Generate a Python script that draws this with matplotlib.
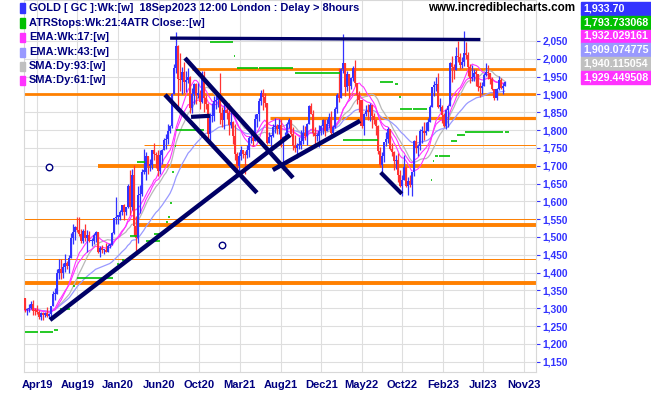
import numpy as np
import pandas as pd
import matplotlib.pyplot as plt

plt.rcParams['font.family'] = ['Liberation Sans', 'DejaVu Sans']
plt.rcParams['font.weight'] = 'bold'

# weekly gold candles, week of 25 Feb 2019 .. week of 18 Sep 2023
closes = [1294, 1298, 1302, 1313, 1292, 1291, 1290, 1276, 1286, 1280, 1286, 1277, 1284,
          1305, 1340, 1341, 1399, 1409, 1399, 1415, 1426, 1419, 1440, 1496, 1513, 1527,
          1520, 1507, 1488, 1517, 1497, 1505, 1488, 1490, 1505, 1514, 1459, 1468, 1462,
          1464, 1459, 1476, 1478, 1511, 1552,
          1557, 1557, 1571, 1589, 1570, 1584, 1643, 1585, 1674, 1530, 1498, 1617, 1620,
          1683, 1683, 1727, 1700, 1702, 1743, 1734, 1730, 1684, 1730, 1743, 1771, 1774,
          1798, 1810, 1902, 1975, 2035, 1944, 1940, 1964, 1934, 1940, 1950, 1862, 1900,
          1930, 1899, 1902, 1879, 1951, 1889, 1872, 1788, 1839, 1840, 1881, 1883, 1895,
          1849, 1828, 1856, 1848, 1814, 1824, 1784, 1734, 1699, 1727, 1745, 1733, 1729,
          1744, 1777, 1778, 1769, 1831, 1844, 1881, 1903, 1892, 1877, 1764, 1781, 1784,
          1808, 1812, 1802, 1814, 1763, 1780, 1781, 1817, 1827, 1788, 1754, 1750, 1757,
          1757, 1768, 1793, 1783, 1818, 1868, 1846, 1792, 1783, 1783, 1798, 1811, 1829,
          1797, 1818, 1836, 1792, 1808, 1859, 1899, 1889, 1970, 1989, 1921, 1958, 1925,
          1946, 1975, 1931, 1897, 1883, 1811, 1846, 1853, 1851, 1871, 1840, 1827, 1811,
          1742, 1703, 1727, 1766, 1775, 1802, 1747, 1738, 1712, 1716, 1675, 1644, 1660,
          1695, 1644, 1657, 1645, 1681, 1769, 1751, 1754, 1797, 1797, 1793, 1798, 1824,
          1865, 1920, 1926, 1928, 1865, 1865, 1842, 1811, 1856, 1868, 1989, 1978, 1969,
          2008, 2004, 1983, 1990, 2017, 2011, 1977, 1946, 1948, 1961, 1958, 1921, 1919,
          1925, 1955, 1962, 1960, 1943, 1914, 1889, 1915, 1940, 1919, 1924, 1933.7]
highs = [1330, 1300, 1311, 1320, 1324, 1300, 1310, 1296, 1288, 1290, 1289, 1303, 1287,
         1306, 1348, 1358, 1411, 1439, 1438, 1427, 1452, 1432, 1448, 1510, 1535, 1531,
         1555, 1557, 1522, 1523, 1535, 1519, 1517, 1498, 1512, 1517, 1515, 1474, 1478,
         1466, 1484, 1479, 1481, 1513, 1553,
         1611, 1563, 1575, 1591, 1593, 1585, 1649, 1689, 1692, 1703, 1560, 1644, 1645,
         1690, 1747, 1738, 1723, 1719, 1745, 1765, 1739, 1745, 1745, 1746, 1779, 1789,
         1818, 1815, 1904, 1984, 2075, 2039, 2015, 1976, 1992, 1967, 1973, 1953, 1917,
         1933, 1933, 1933, 1912, 1965, 1966, 1898, 1875, 1848, 1875, 1896, 1906, 1900,
         1959, 1864, 1875, 1875, 1875, 1855, 1826, 1816, 1739, 1739, 1755, 1745, 1741,
         1758, 1784, 1797, 1790, 1845, 1846, 1890, 1913, 1916, 1903, 1877, 1795, 1787,
         1818, 1834, 1816, 1832, 1832, 1782, 1795, 1823, 1834, 1827, 1809, 1787, 1764,
         1781, 1800, 1813, 1810, 1819, 1870, 1877, 1857, 1808, 1793, 1815, 1815, 1831,
         1831, 1830, 1848, 1853, 1814, 1865, 1903, 1974, 1974, 2070, 1988, 1966, 1942,
         1948, 1979, 1998, 1920, 1909, 1884, 1849, 1870, 1874, 1876, 1857, 1848, 1830,
         1814, 1752, 1739, 1767, 1795, 1808, 1803, 1765, 1740, 1730, 1735, 1688, 1673,
         1729, 1695, 1669, 1675, 1681, 1773, 1787, 1760, 1804, 1810, 1824, 1823, 1833,
         1870, 1921, 1937, 1949, 1960, 1890, 1870, 1847, 1858, 1870, 1990, 2009, 1986,
         2032, 2049, 2015, 2004, 2079, 2048, 2020, 1985, 1983, 1970, 1971, 1947, 1935,
         1935, 1960, 1987, 1983, 1960, 1948, 1915, 1919, 1952, 1946, 1933, 1937]
lows = [1290, 1281, 1290, 1297, 1281, 1280, 1285, 1270, 1266, 1267, 1275, 1274, 1272,
        1273, 1305, 1322, 1339, 1382, 1381, 1385, 1403, 1411, 1400, 1441, 1480, 1492,
        1515, 1502, 1484, 1484, 1490, 1459, 1486, 1474, 1480, 1487, 1456, 1445, 1455,
        1452, 1458, 1459, 1470, 1477, 1509,
        1535, 1536, 1548, 1562, 1548, 1563, 1580, 1563, 1577, 1504, 1451, 1482, 1567,
        1615, 1676, 1660, 1677, 1685, 1692, 1717, 1694, 1671, 1678, 1704, 1743, 1748,
        1762, 1791, 1807, 1900, 1961, 1863, 1911, 1902, 1903, 1906, 1931, 1849, 1848,
        1873, 1873, 1890, 1860, 1877, 1850, 1859, 1775, 1764, 1823, 1826, 1859, 1866,
        1817, 1808, 1803, 1831, 1785, 1807, 1760, 1717, 1687, 1677, 1716, 1722, 1677,
        1721, 1724, 1764, 1756, 1770, 1808, 1826, 1870, 1856, 1866, 1761, 1768, 1750,
        1781, 1791, 1789, 1790, 1753, 1687, 1771, 1777, 1807, 1782, 1745, 1738, 1721,
        1746, 1746, 1761, 1772, 1758, 1817, 1846, 1782, 1762, 1770, 1753, 1787, 1789,
        1783, 1796, 1805, 1780, 1781, 1807, 1849, 1878, 1889, 1961, 1895, 1910, 1890,
        1915, 1939, 1925, 1872, 1850, 1807, 1786, 1839, 1828, 1825, 1805, 1816, 1785,
        1732, 1697, 1681, 1711, 1754, 1764, 1745, 1727, 1688, 1691, 1654, 1639, 1615,
        1660, 1641, 1618, 1640, 1616, 1671, 1737, 1728, 1744, 1765, 1773, 1785, 1797,
        1824, 1867, 1896, 1911, 1861, 1853, 1819, 1809, 1804, 1809, 1867, 1934, 1944,
        1984, 1990, 1970, 1974, 1981, 2000, 1952, 1932, 1937, 1938, 1925, 1910, 1893,
        1902, 1924, 1952, 1942, 1930, 1912, 1885, 1884, 1913, 1915, 1901, 1926]
opens = [1329] + closes[:-1]

tick_weeks = [6, 26, 46, 66.5, 86.5, 106.5, 127, 147, 167, 187, 207.5, 227.5, 247.5]
tick_labels = ['Apr19', 'Aug19', 'Jan20', 'Jun20', 'Oct20', 'Mar21', 'Aug21',
               'Dec21', 'May22', 'Oct22', 'Feb23', 'Jul23', 'Nov23']
price_ticks = list(range(1150, 2051, 50))

# orange support / resistance levels
level_price = [1971, 1902, 1833, 1758, 1698, 1551, 1533, 1437, 1371]
level_start = [83, -1, 121.5, 59, 36, -1, 56, -1, -1]
level_width = [2.0, 2.0, 2.3, 0.7, 2.8, 0.7, 2.8, 0.7, 2.8]

# navy trend lines (week, price) -> (week, price)
trend_w0 = [72, 12.4, 123, 69.5, 79.4, 82.4, 176.5]
trend_p0 = [2058, 1267, 1688, 1899, 2002, 1837, 1681]
trend_w1 = [226, 131.5, 166.3, 115.1, 133, 91.8, 187]
trend_p1 = [2054, 1786, 1826, 1624, 1666, 1840, 1621]
trend_lw = [2.4, 3.2, 3.2, 3.2, 3.2, 3.0, 3.0]

# ATR stop segments
atr_start = [0, 7.5, 14.5, 17.4, 23.8, 25.6, 45.5, 48, 52, 55.6, 60, 64, 70, 71, 72, 73, 74.5,
             75, 92, 103.5, 105, 116.2, 134, 158, 176, 183.5, 185.5, 186, 192.5, 201.5,
             202.5, 203.5, 205.5, 211.5, 214.5, 218.5, 238]
atr_end = [6.5, 14, 16.5, 22.3, 24.8, 43.7, 46.5, 49, 55.6, 59.5, 67, 68, 70.8, 71.8, 72.8,
           73.8, 75, 89, 103, 104.2, 115.4, 133, 156.5, 175, 182.5, 185, 186.5, 192, 199.5,
           202.2, 203.2, 205, 211, 214.5, 218.5, 237, 240]
atr_level = [1234, 1234, 1240, 1297, 1362, 1385, 1423, 1436, 1504, 1711, 1489, 1509, 1543,
             1557, 1596, 1683, 1754, 1800, 2047, 2008, 1974, 1974, 1960, 1773, 1934, 1929,
             1893, 1859, 1859, 1660, 1714, 1726, 1728, 1770, 1786, 1794, 1794]

marker_w = [12, 97.8]
marker_p = [1695, 1478]

legend_text = ['GOLD [ GC ]:Wk:[w]  18Sep2023 12:00 London : Delay > 8hours',
               'ATRStops:Wk:21:4ATR Close::[w]', 'EMA:Wk:17:[w]', 'EMA:Wk:43:[w]',
               'SMA:Dy:93:[w]', 'SMA:Dy:61:[w]']
legend_color = ['#3333ff', '#00c000', '#ff33ff', '#9999ff', '#c0c0c0', '#ff33ff']
value_text = ['1,933.70', '1,793.733068', '1,932.029161', '1,909.074775',
              '1,940.115054', '1,929.449508']

W, H = 651, 395
fig = plt.figure(figsize=(W / 100, H / 100), dpi=100)
ax = fig.add_axes([24 / W, 1 - 372 / H, 512 / W, 372 / H])
ax.set_xlim(-0.5, 253.6)
ax.set_ylim(1121, 2165)

for s in ax.spines.values():
    s.set_color('#d8d8d8')
ax.set_xticks(tick_weeks)
ax.set_xticklabels(tick_labels, fontsize=8, color='#000080')
ax.set_yticks(price_ticks)
ax.set_yticklabels([f'{v:,}' for v in price_ticks], fontsize=7.4, color='#3333ff')
ax.yaxis.tick_right()
ax.tick_params(axis='x', length=0, pad=6)
ax.tick_params(axis='y', length=3, color='#3333ff', pad=1.5)
ax.grid(True, color='#dedede', lw=0.8)
ax.set_axisbelow(True)

for p, s, w in zip(level_price, level_start, level_width):
    ax.plot([s, 253.6], [p, p], color='#ff8000', lw=w, solid_capstyle='butt', zorder=2)

x = np.arange(len(closes))
c = np.array(closes, dtype=float)
o = np.array(opens, dtype=float)
hi = np.maximum.reduce([np.array(highs, float), o, c])
lo = np.minimum.reduce([np.array(lows, float), o, c])

cs = pd.Series(c)
ema17 = cs.ewm(span=17, adjust=False).mean()
ema43 = cs.ewm(span=43, adjust=False).mean()
sma93 = cs.rolling(19, min_periods=1).mean()
sma61 = cs.rolling(12, min_periods=1).mean()
ax.plot(x, sma93, color='#b8b8b8', lw=0.9, zorder=3)
ax.plot(x, ema43, color='#9999ff', lw=0.9, zorder=3)
ax.plot(x, sma61, color='#ff33ff', lw=0.8, zorder=3)
ax.plot(x, ema17, color='#ff33ff', lw=0.8, zorder=3)

col = np.where(c >= o, '#3333ff', '#ff3333')
ax.vlines(x, lo, hi, colors=col, lw=0.9, zorder=4)
ax.bar(x, np.maximum(np.abs(c - o), 4), bottom=np.minimum(o, c), width=1.0,
       color=col, zorder=4)

for a, b, p in zip(atr_start, atr_end, atr_level):
    ax.plot([a, b], [p, p], color='#00c000', lw=1.2, solid_capstyle='butt', zorder=5)

for w0, p0, w1, p1, lw in zip(trend_w0, trend_p0, trend_w1, trend_p1, trend_lw):
    ax.plot([w0, w1], [p0, p1], color='#000066', lw=lw, solid_capstyle='butt', zorder=6)

ax.scatter(marker_w, marker_p, s=22, facecolors='white', edgecolors='#000080',
           linewidths=1, zorder=6)

# header legend
rows_y = [8, 23, 37, 52, 66, 80]
for t, cl, yy in zip(legend_text, legend_color, rows_y):
    fig.patches.append(plt.Rectangle((20 / W, 1 - (yy + 4.5) / H), 5 / W, 9 / H,
                                     color=cl, transform=fig.transFigure))
    fig.text(29 / W, 1 - yy / H, t, fontsize=7.9, color='#000080', va='center')

fig.text(428 / W, 1 - 8 / H, 'www.incrediblecharts.com', fontsize=8.4,
         color='black', va='center')

box_y = [8.5, 22.3, 36, 49.7, 63.5, 77.3]
box_col = ['#3333ff', '#00c000', '#ff33ff', '#9999ff', '#c0c0c0', '#ff33ff']
for t, cl, yy in zip(value_text, box_col, box_y):
    fig.patches.append(plt.Rectangle((581 / W, 1 - (yy + 6.5) / H), 70 / W, 13 / H,
                                     color=cl, transform=fig.transFigure))
    fig.text(583 / W, 1 - yy / H, t, fontsize=7.7, color='white', va='center')

fig.savefig('out.png', dpi=100)
